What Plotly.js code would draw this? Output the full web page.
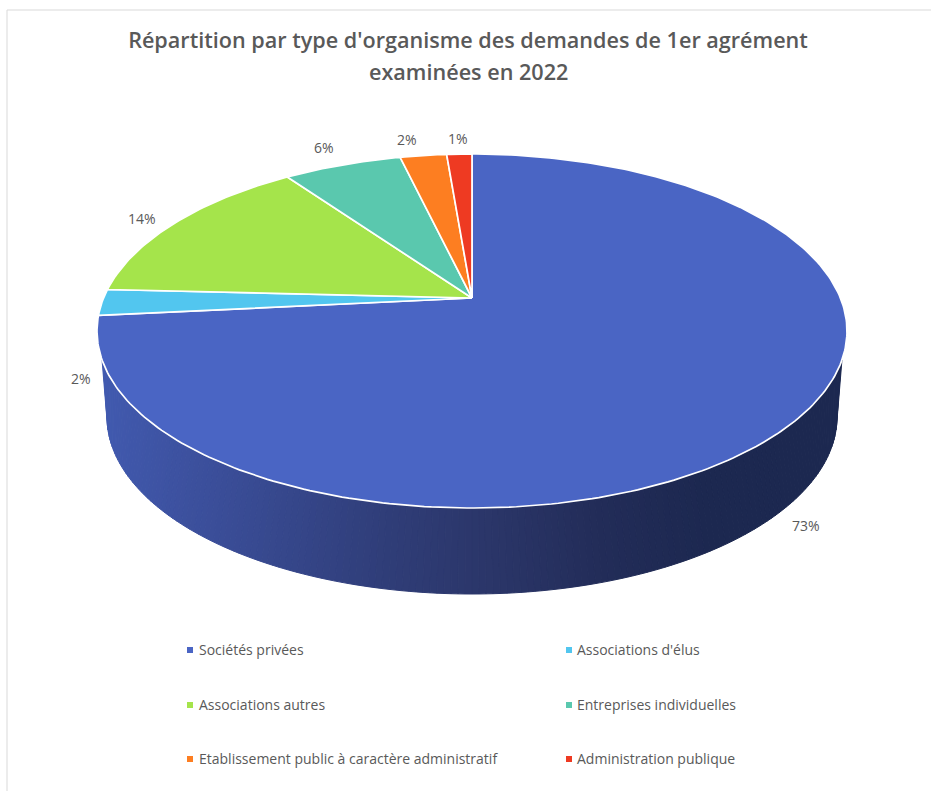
<!DOCTYPE html>
<html><head><meta charset="utf-8">
<script src="https://cdn.plot.ly/plotly-3.0.1.min.js"></script>
<style>html,body{margin:0;padding:0;background:#fff}#c{width:931px;height:791px}</style></head>
<body><div id="c"></div>
<script>
const categories = ["Sociétés privées","Associations d'élus","Associations autres","Entreprises individuelles","Etablissement public à caractère administratif","Administration publique"];
const shares = [73.4,2.4,14.4,6.1,2.4,1.3];
const colors = ["#4a65c4","#52c6ef","#a5e44b","#5ac8ae","#fd7e21","#ee3a22"];
const titleLines = ["Répartition par type d'organisme des demandes de 1er agrément","examinées en 2022"];

// drawing geometry (axes are in page pixels)
const top_ = {cx:472, cy:331, rx:375, ry:177};
const bot = {cx:472, cy:417, rx:365, ry:177};
const tilt = 33/177;                     // how far the apex sits above the ellipse centre
const labelShift = [[22,97],[-21,76],[-34,-4],[-18,-17],[-16,-16],[-1,-16]];
const legendRows = [649,704,758], legendCols = [190,569], legendTextGap = [7,6];
const wallStops = [[100,[65,90,176]],[200,[60,80,157]],[380,[48,62,122]],[500,[42,53,103]],[600,[34,44,88]],[700,[28,40,80]],[850,[28,40,80]]];

function project(pct, r){
  const t = pct/100*2*Math.PI, x = r*Math.sin(t), y = r*Math.cos(t);
  const d = 1+tilt*y, yy = (y+tilt)/d, xx = x*Math.sqrt(1-tilt*tilt)/d;
  return [top_.cx+top_.rx*xx, top_.cy-top_.ry*yy];
}
function wallColor(x){
  for(let i=1;i<wallStops.length;i++){
    if(x<=wallStops[i][0]){
      const [a,ca]=wallStops[i-1],[b,cb]=wallStops[i],f=Math.max(0,(x-a)/(b-a));
      return `rgb(${ca.map((v,k)=>Math.round(v+(cb[k]-v)*f)).join(',')})`;
    }
  }
  return 'rgb(28,40,80)';
}
const traces=[];
const N=160, a0=9.4*Math.PI/180, b0=2*Math.PI/180;
for(let i=0;i<N;i++){
  const P=(e,s,k)=>{const u=k/N, ang=s+(Math.PI-2*s)*u; return [e.cx+e.rx*Math.cos(Math.PI-ang), e.cy+e.ry*Math.sin(ang)];};
  const A=P(top_,a0,i),B=P(top_,a0,i+1),C=P(bot,b0,i+1),D=P(bot,b0,i);
  const col=wallColor((A[0]+B[0])/2);
  traces.push({type:'scatter',mode:'lines',x:[A[0],B[0],C[0],D[0],A[0]],y:[A[1],B[1],C[1],D[1],A[1]],fill:'toself',fillcolor:col,line:{color:col,width:1},hoverinfo:'skip',showlegend:false});
}
const total=shares.reduce((a,b)=>a+b,0);
let cum=0;
const ann=[];
shares.forEach((s,i)=>{
  const v=s/total*100;
  const xs=[],ys=[];
  const apex=project(0,0); xs.push(apex[0]); ys.push(apex[1]);
  const n=Math.max(4,Math.ceil(v*4));
  for(let k=0;k<=n;k++){const p=project(cum+v*k/n,1);xs.push(p[0]);ys.push(p[1]);}
  xs.push(apex[0]);ys.push(apex[1]);
  traces.push({type:'scatter',mode:'lines',x:xs,y:ys,fill:'toself',fillcolor:colors[i],line:{color:'#ffffff',width:1.7},name:categories[i],hoverinfo:'name',showlegend:false});
  const m=project(cum+v/2,1);
  ann.push({x:m[0],y:m[1],xref:'x',yref:'y',xshift:labelShift[i][0],yshift:-labelShift[i][1],text:Math.round(s)+'%',showarrow:false,font:{family:'Open Sans',size:14,color:'#595959'}});
  cum+=v;
});
categories.forEach((c,i)=>{
  const col=i%2,row=Math.floor(i/2);
  traces.push({type:'scatter',mode:'markers',x:[legendCols[col]],y:[legendRows[row]+1],marker:{symbol:'square',size:6,color:colors[i]},hoverinfo:'skip',showlegend:false,cliponaxis:false});
  ann.push({x:legendCols[col]+legendTextGap[col],y:legendRows[row],xref:'x',yref:'y',xanchor:'left',yanchor:'middle',text:c,showarrow:false,font:{family:'Open Sans',size:14,color:'#595959'}});
});
ann.push({x:468,y:71,xref:'x',yref:'y',xanchor:'center',yanchor:'middle',text:titleLines[1],showarrow:false,font:{family:'Open Sans',size:21.6,color:'#595959',weight:600}});
const layout={
  width:931,height:791,margin:{l:0,r:0,t:0,b:0},autosize:false,showlegend:false,paper_bgcolor:'#fff',plot_bgcolor:'rgba(0,0,0,0)',
  title:{text:titleLines[0],font:{family:'Open Sans',size:21.6,color:'#595959',weight:600},x:468/931,xanchor:'center',y:1-40/791,yanchor:'middle',xref:'paper',yref:'paper'},
  xaxis:{range:[0,931],visible:false,fixedrange:true},
  yaxis:{range:[791,0],visible:false,fixedrange:true},
  annotations:ann,
  shapes:[
    {type:'line',xref:'paper',yref:'paper',x0:7/931,x1:1,y0:1-10/791,y1:1-10/791,line:{color:'#d9d9d9',width:1}},
    {type:'line',xref:'paper',yref:'paper',x0:7/931,x1:7/931,y0:0,y1:1-10/791,line:{color:'#d9d9d9',width:1}}
  ]
};
Plotly.newPlot('c',traces,layout,{displayModeBar:false,staticPlot:true});
</script></body></html>
